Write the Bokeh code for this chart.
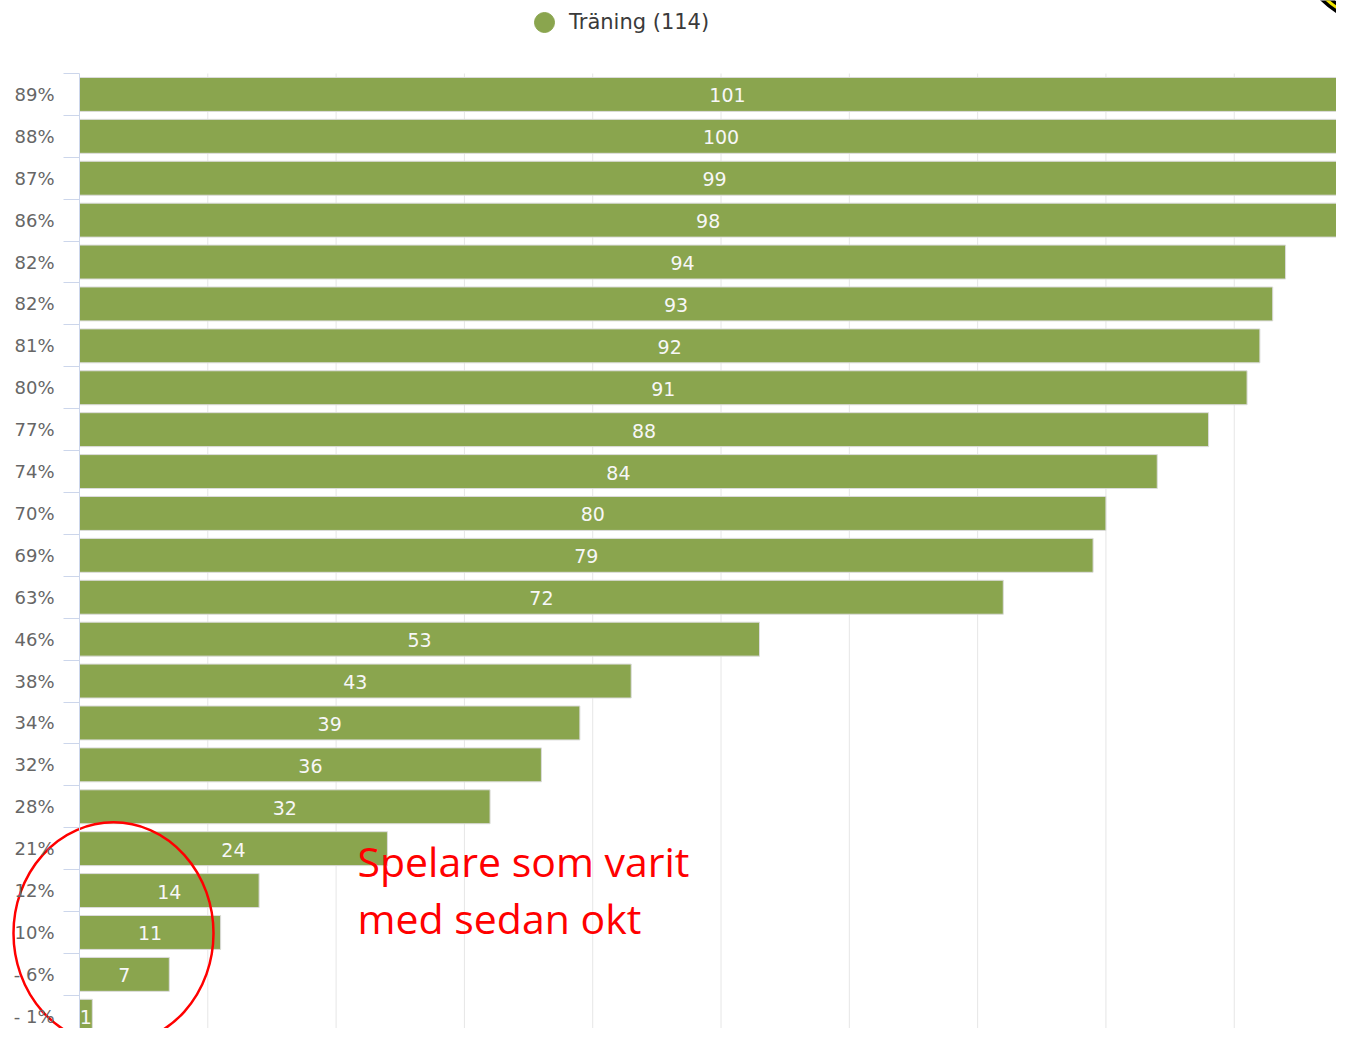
from bokeh.plotting import figure
from bokeh.models import (Range1d, FixedTicker, LinearAxis, Legend, LegendItem,
                          ColumnDataSource, Label)
from bokeh.embed import file_html
from bokeh.resources import INLINE
from bokeh.core.properties import value

# ---- data ----
labels = ["89%", "88%", "87%", "86%", "82%", "82%", "81%", "80%", "77%", "74%", "70%",
          "69%", "63%", "46%", "38%", "34%", "32%", "28%", "21%", "12%", "10%", "- 6%", "- 1%"]
counts = [101, 100, 99, 98, 94, 93, 92, 91, 88, 84, 80, 79, 72, 53, 43, 39, 36, 32,
          24, 14, 11, 7, 1]
series_name = "Träning (114)"
grid_ticks = [10, 20, 30, 40, 50, 60, 70, 80, 90]
note_lines = ["Spelare som varit", "med sedan okt"]

GREEN = "#8aa54e"
n = len(counts)
idx = list(range(n))

src = ColumnDataSource(dict(y=idx, v=counts, mid=[c / 2 for c in counts],
                            txt=[str(c) for c in counts]))

p = figure(width=1336, height=1028, output_backend="svg", toolbar_location=None,
           x_axis_location=None, y_axis_location=None,
           x_range=Range1d(-6.157, 97.97), y_range=Range1d(22.292, -2.242),
           min_border_left=0, min_border_right=0, min_border_top=0, min_border_bottom=0)
p.outline_line_color = None
p.grid.visible = False

# vertical grid lines over the category span
p.segment(x0=grid_ticks, x1=grid_ticks, y0=[-0.5] * len(grid_ticks), y1=[n - 0.5] * len(grid_ticks),
          line_color="#e6e6e6", line_width=1)

p.hbar(y="y", left=0, right="v", height=0.81, source=src,
       fill_color=GREEN, line_color="#dcdcdc", line_width=1)

p.text(x="mid", y="y", text="txt", source=src, text_color="#f7f7f7",
       text_font=value("DejaVu Sans"), text_font_size="19px",
       text_align="center", text_baseline="middle", y_offset=1)

# y axis at x=0 inside the frame
yaxis = LinearAxis(fixed_location=0, bounds=(-0.5, n - 0.5),
                   ticker=FixedTicker(ticks=idx, minor_ticks=[i - 0.5 for i in range(n + 1)]),
                   major_label_overrides={i: lab for i, lab in enumerate(labels)},
                   axis_line_color="#ccd6eb", axis_line_width=1,
                   major_tick_line_color=None, major_tick_out=0, major_tick_in=0,
                   minor_tick_line_color="#ccd6eb", minor_tick_out=16, minor_tick_in=0,
                   major_label_standoff=9,
                   major_label_text_color="#666666",
                   major_label_text_font="DejaVu Sans",
                   major_label_text_font_size="18px")
p.add_layout(yaxis, "left")

# legend
dummy = p.scatter(x=[-100], y=[-100], marker="circle", size=20, fill_color=GREEN, line_color=GREEN)
legend = Legend(items=[LegendItem(label=series_name, renderers=[dummy])],
                location=(519, 981), padding=0, margin=0, spacing=0,
                glyph_width=50, glyph_height=50, label_standoff=0, label_height=50,
                label_text_font="DejaVu Sans", label_text_font_size="21px",
                label_text_color="#3a3a3a", border_line_color=None,
                background_fill_alpha=0)
p.add_layout(legend, "center")

# partial logo in the top-right corner
p.circle(x=101.4, y=-3.674, radius=80, radius_units="screen",
         fill_color=None, line_color="black", line_width=10)
p.circle(x=101.4, y=-3.674, radius=80, radius_units="screen",
         fill_color=None, line_color="#f2e600", line_width=3)

# annotation
p.ellipse(x=2.65, y=20.02, width=200, height=222, width_units="screen", height_units="screen",
          fill_color=None, line_color="#ff0000", line_width=2.5)
for line, yy in zip(note_lines, [18.30, 19.66]):
    p.add_layout(Label(x=21.67, y=yy, text=line, text_color="#ff0000",
                       text_font="Open Sans", text_font_size="41px",
                       text_baseline="alphabetic", text_align="left"))

open("out.html", "w").write(file_html(p, INLINE))
